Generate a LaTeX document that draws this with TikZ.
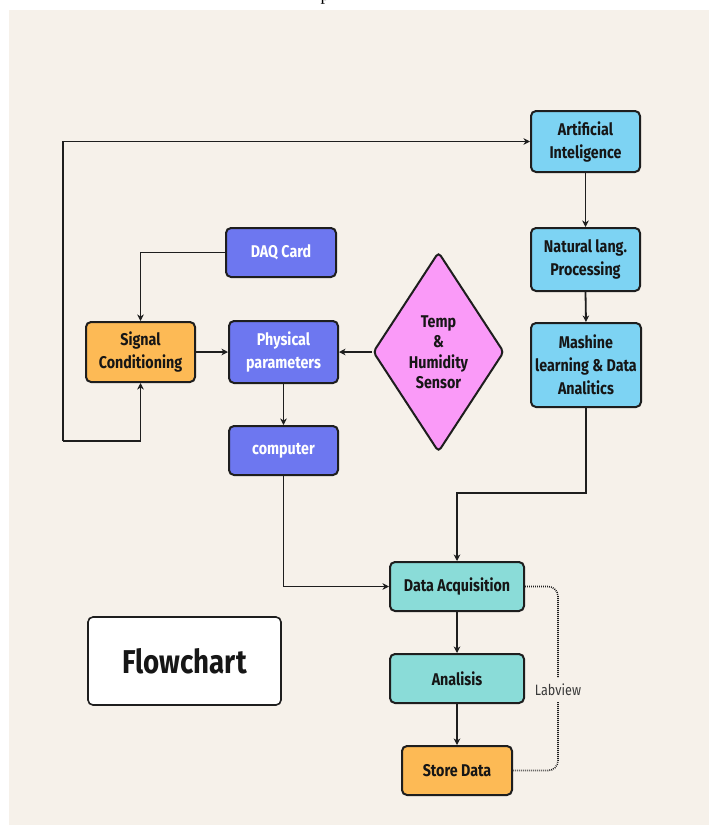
\documentclass[tikz,border=0pt]{standalone}
\usepackage{fontspec}
\usetikzlibrary{shapes.geometric,arrows.meta}
\newfontfamily\boxfont{Fira Sans}[FakeStretch=0.84]
\newfontfamily\serfont{Liberation Serif}
\definecolor{bg}{HTML}{F6F1EA}
\definecolor{edge}{HTML}{1E1E1E}
\definecolor{ink}{HTML}{161616}
\definecolor{sky}{HTML}{7DD3F3}
\definecolor{violet}{HTML}{6D77F0}
\definecolor{amber}{HTML}{FDBA55}
\definecolor{orchid}{HTML}{FA9AF8}
\definecolor{aqua}{HTML}{8ADCD8}
\definecolor{labgray}{HTML}{3A3A3A}
\begin{document}
\begin{tikzpicture}[x=1pt,y=-1pt,
  box/.style={draw=edge, line width=2pt, rounded corners=5pt, inner sep=0pt,
    align=center, font=\boxfont\bfseries\fontsize{17}{23}\selectfont, text=ink},
  wtext/.style={text=white},
  arr/.style={line width=1.8pt, draw=edge, -{Stealth[length=6.5pt,width=6.5pt,inset=2pt]}},
]
\useasboundingbox (0,0) rectangle (709,825);
\fill[bg] (9,10) rectangle (709,825);
% cut text fragment at top
\node[anchor=base west, inner sep=0pt, font=\serfont\fontsize{18}{20}\selectfont] (frag) at (320.5,0.3) {p};

% right column
\node[box, fill=sky, minimum width=109pt, minimum height=61pt] (ai) at (585.5,141.5) {Artificial\\Inteligence};
\node[box, fill=sky, minimum width=109pt, minimum height=63pt] (nlp) at (585.5,259.5) {Natural lang.\\Processing};
\node[box, fill=sky, minimum width=110pt, minimum height=84pt] (ml) at (586,365) {Mashine\\learning \& Data\\Analitics};

% sensor diamond
\node[diamond, aspect=0.655, draw=edge, line width=2pt, fill=orchid, minimum width=131pt, minimum height=200pt,
  inner sep=0pt, rounded corners=4pt, align=center, text=ink,
  font=\boxfont\bfseries\fontsize{17}{20.5}\selectfont] (sen) at (438.5,352) {Temp\\\&\\Humidity\\Sensor};

% left group
\node[box, fill=violet, wtext, minimum width=110pt, minimum height=49pt] (daq) at (281,252.5) {DAQ Card};
\node[box, fill=amber, minimum width=109pt, minimum height=60pt] (sig) at (140.5,352) {Signal\\Conditioning};
\node[box, fill=violet, wtext, minimum width=109pt, minimum height=62pt] (phy) at (283.5,352) {Physical\\parameters};
\node[box, fill=violet, wtext, minimum width=109pt, minimum height=49pt] (comp) at (283.5,450.5) {computer};

% bottom column
\node[box, fill=aqua, minimum width=134pt, minimum height=49pt] (da) at (457,586.5) {Data Acquisition};
\node[box, fill=aqua, minimum width=134pt, minimum height=49pt] (an) at (457,678.5) {Analisis};
\node[box, fill=amber, minimum width=110pt, minimum height=49pt] (st) at (457,770.5) {Store Data};

% title box
\node[box, fill=white, line width=1.6pt, minimum width=193pt, minimum height=88pt,
  font=\boxfont\bfseries\fontsize{33}{36}\selectfont] (title) at (184.5,661) {Flowchart};

% helper coordinates
\coordinate (fb1) at (140.5,441);
\coordinate (fb2) at (63,441);
\coordinate (mj) at (457,493);
\coordinate (lbx) at (558,690);

% connectors
\draw[line width=1.8pt, draw=edge] (fb1) -- (fb2);
\draw[arr] (fb1) -- (sig.south);
\draw[arr] (fb2) |- (ai.west);
\draw[arr] (daq.west) -| (sig.north);
\draw[arr] (sig.east) -- (phy.west);
\draw[arr] (sen.west) -- (phy.east);
\draw[arr] (phy.south) -- (comp.north);
\draw[arr] (comp.south) |- (da.west);
\draw[arr] (ai.south) -- (nlp.north);
\draw[arr] (nlp.south) -- (ml.north);
\draw[arr] (ml.south) |- (mj) -- (da.north);
\draw[arr] (da.south) -- (an.north);
\draw[arr] (an.south) -- (st.north);

% Labview dotted bracket
\draw[draw=edge, line width=1.6pt, dash pattern=on 0.9pt off 1.1pt, rounded corners=10pt]
  (da.east) -- (lbx |- da.east) -- (lbx |- st.east) -- (st.east);
\node[fill=bg, inner xsep=2pt, inner ysep=6pt, text=labgray,
  font=\boxfont\fontsize{15}{18}\selectfont] (lab) at (lbx) {Labview};
\end{tikzpicture}
\end{document}
